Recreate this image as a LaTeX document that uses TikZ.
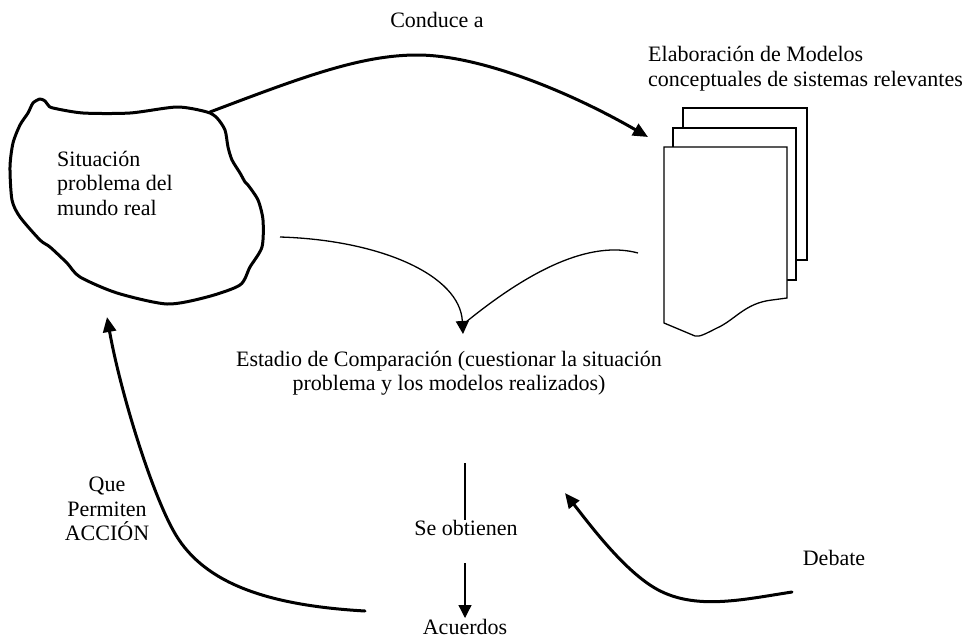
\documentclass[tikz,border=0pt]{standalone}
\usepackage{fontspec}
\setmainfont{Liberation Serif}
\usetikzlibrary{arrows.meta}
\begin{document}
\begin{tikzpicture}[x=1pt,y=-1pt,
  lbl/.style={inner sep=0pt, font=\fontsize{22}{24.5}\selectfont},
  thick line/.style={line width=3pt, line cap=round, line join=round},
  thin line/.style={line width=1.3pt},
  bighead/.style={-{Triangle[length=15pt,width=13pt]}},
  smallhead/.style={-{Triangle[length=13pt,width=13pt]}}]
\useasboundingbox (0,0) rectangle (977,640);

% hand-drawn outline of the real-world situation
\draw[thick line] plot[smooth cycle, tension=0.45] coordinates {
  (40,99) (45,101) (48,105) (53,108) (83,113) (130,113) (177,107) (207,112)
  (217,118) (225,130) (228,147) (232,160) (240,173) (245,182) (248,185)
  (258,200) (263,220) (262,247) (250,267) (240,285) (207,297) (167,304)
  (117,293) (80,277) (67,263) (50,247) (40,240) (20,217) (12,200) (10,167)
  (13,143) (20,125) (28,113) (33,103)};
\node[lbl, anchor=west, align=left] (sit) at (57,183)
  {Situación\\problema del\\mundo real};

% stack of model sheets
\draw[thin line, fill=white] (683,108) rectangle (807,260);
\draw[thin line, fill=white] (673,128) rectangle (796,280);
\draw[thin line, fill=white] (664,147) -- (787,147) -- (787,298) -- (772,300)
  .. controls (745,303) and (735,320) .. (717,328)
  .. controls (705,334) and (700,337) .. (695,336) -- (664,323) -- cycle;

% labels
\node[lbl] (conduce) at (437,20) {Conduce a};
\node[lbl, anchor=west, align=left] (modelos) at (648,68.5)
  {Elaboración de Modelos\\conceptuales de sistemas relevantes};
\node[lbl, align=center] (estadio) at (449,373)
  {Estadio de Comparación (cuestionar la situación\\problema y los modelos realizados)};
\node[lbl] (obtienen) at (466,528) {Se obtienen};
\node[lbl] (acuerdos) at (465,627) {Acuerdos};
\node[lbl, align=center] (accion) at (107,509) {Que\\Permiten\\ACCIÓN};
\node[lbl] (debate) at (834,558) {Debate};

% connector end points
\coordinate (sitNE) at (210,112);
\coordinate (modIn) at (648,137);
\coordinate (sitR) at (280,237);
\coordinate (modL) at (638,253);
\coordinate (cmpIn) at (463,334);
\coordinate (cmpOut) at (465,463);
\coordinate (obtTop) at (465,520);
\coordinate (obtOut) at (465,563);
\coordinate (acuIn) at (465,618);
\coordinate (acuL) at (365,611);
\coordinate (sitIn) at (107,317);
\coordinate (debOut) at (792,592);
\coordinate (cmpUp) at (565,493);

% connectors
\draw[thick line, bighead] (sitNE) .. controls (300,78) and (360,55) .. (417,55)
  .. controls (480,55) and (570,92) .. (modIn);
\draw[thin line, smallhead] (sitR) .. controls (380,240) and (460,275) .. (cmpIn);
\draw[thin line] (modL) .. controls (590,240) and (530,270) .. (466,322);
\draw[thin line] (cmpOut) -- (obtTop);
\draw[thin line, smallhead] (obtOut) -- (acuIn);
\draw[thick line, bighead] (acuL) .. controls (260,605) and (200,580) .. (173,530)
  .. controls (150,488) and (120,390) .. (sitIn);
\draw[thick line, bighead] (debOut) .. controls (740,600) and (690,612) .. (650,585)
  .. controls (620,565) and (590,525) .. (cmpUp);
\end{tikzpicture}
\end{document}
